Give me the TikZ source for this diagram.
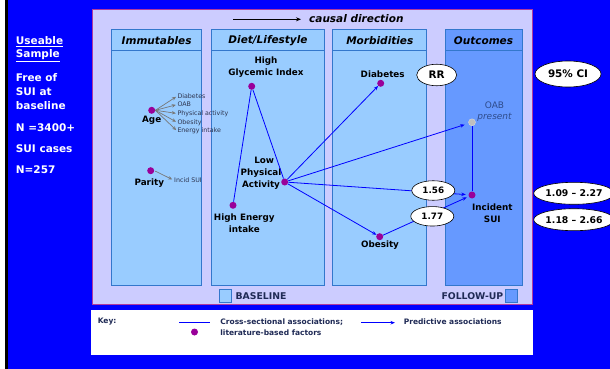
\documentclass[tikz,border=0pt]{standalone}
\usepackage{fontspec}
\setmainfont{DejaVu Sans}
\usetikzlibrary{shapes.geometric,arrows.meta}

\definecolor{bgblue}{HTML}{0000FF}
\definecolor{lav}{HTML}{CCCCFF}
\definecolor{lavedge}{HTML}{B03A9E}
\definecolor{colfill}{HTML}{99CCFF}
\definecolor{outfill}{HTML}{6699FF}
\definecolor{coledge}{HTML}{3377CC}
\definecolor{dotc}{HTML}{990099}
\definecolor{linec}{HTML}{0000FF}
\definecolor{grayarr}{HTML}{777777}
\definecolor{navy}{HTML}{1F2A55}
\definecolor{smalltxt}{HTML}{2E3550}
\definecolor{oabtxt}{HTML}{2F4C8C}

\tikzset{
  dotnode/.style={circle, fill=dotc, draw=none, inner sep=0pt, minimum size=7pt},
  lbl/.style={font=\bfseries\fontsize{8.8}{11}\selectfont, align=center, inner sep=0pt, text=black},
  small/.style={font=\fontsize{6.3}{7}\selectfont, text=smalltxt, inner sep=0pt, anchor=west},
  cs/.style={draw=linec, line width=0.8pt},
  pred/.style={cs, -{Stealth[length=4.5pt,width=3.5pt]}},
  gar/.style={draw=grayarr, line width=0.7pt, -{Stealth[length=4pt,width=3.5pt]}},
  oval/.style={ellipse, draw=black, line width=0.6pt, fill=white, inner sep=0pt,
    font=\bfseries\fontsize{8.8}{10}\selectfont},
  col/.style={draw=coledge, line width=0.8pt, fill=colfill},
  head/.style={font=\bfseries\itshape\fontsize{10.5}{12}\selectfont, inner sep=0pt},
  side/.style={font=\bfseries\fontsize{10.5}{12}\selectfont, text=white, anchor=west, inner sep=0pt},
  keytxt/.style={font=\bfseries\fontsize{7.5}{9}\selectfont, text=navy, anchor=west, inner sep=0pt},
}

\begin{document}
\begin{tikzpicture}[x=1pt,y=-1pt]
% page background
\useasboundingbox (0,0) rectangle (610,369);
\fill[white] (0,0) rectangle (5,369);
\fill[black] (5,0) rectangle (7.5,369);
\fill[bgblue] (7.5,0) rectangle (610,369);

% sample description
\node[side] (s1) at (15.7,41.7) {\underline{Useable}};
\node[side] (s2) at (15.7,55.7) {\underline{Sample}};
\node[side] (s3) at (15.7,77.7) {Free of};
\node[side] (s4) at (15.7,91.7) {SUI at};
\node[side] (s5) at (15.7,105.7) {baseline};
\node[side] (s6) at (15.7,127.7) {N =3400+};
\node[side] (s7) at (15.7,149) {SUI cases};
\node[side] (s8) at (15.7,170) {N=257};

% main panel
\draw[fill=lav, draw=lavedge, line width=0.8pt] (92.2,9.3) rectangle (532.2,304.8);

% columns
\draw[col] (111.5,29.7) rectangle (201.6,285.5);
\draw[col] (211.2,29.7) rectangle (324.8,285.5);
\draw[col] (332.8,29.7) rectangle (426.8,285.5);
\draw[col, fill=outfill] (445,29.7) rectangle (522,285.5);
\foreach \a/\b in {111.5/201.6, 211.2/324.8, 332.8/426.8, 445/522}
  \draw[draw=coledge, line width=0.8pt] (\a,50) -- (\b,50);

\node[head] (h1) at (156.6,40.5) {Immutables};
\node[head] (h2) at (268,40.5) {Diet/Lifestyle};
\node[head] (h3) at (379.8,40.5) {Morbidities};
\node[head] (h4) at (483.5,40.5) {Outcomes};

% causal direction
\coordinate (ca1) at (233,19.3);
\coordinate (ca2) at (301,19.3);
\draw[black, line width=0.8pt, -{Stealth[length=5pt,width=4pt]}] (ca1) -- (ca2);
\node[head, anchor=west] (cd) at (309,19) {causal direction};

% nodes
\node[dotnode] (age) at (151.7,110.3) {};
\node[dotnode] (par) at (150.7,170.7) {};
\node[dotnode] (gi) at (251.7,86.3) {};
\node[dotnode] (lpa) at (284.7,182) {};
\node[dotnode] (hei) at (233,205.3) {};
\node[dotnode] (diab) at (380.7,83.3) {};
\node[dotnode] (obes) at (379.7,236.7) {};
\node[circle, fill=black!25, draw=black!15, inner sep=0pt, minimum size=7pt] (oab) at (472,122.3) {};
\node[dotnode] (sui) at (472,195) {};

% labels
\node[lbl] (lage) at (151.7,120.7) {Age};
\node[lbl] (lpar) at (149.3,183) {Parity};
\node[lbl] (lgi) at (266,67) {High\\[1pt]Glycemic Index};
\node[lbl] (llpa) at (261,173) {\hphantom{P}Low\\[1pt]Physical\\[1pt]Activity};
\node[lbl] (lhei) at (244.3,222.8) {High Energy\\[1pt]intake};
\node[lbl] (ldiab) at (382.7,74.3) {Diabetes};
\node[lbl] (lobes) at (380,245.3) {Obesity};
\node[lbl] (lsui) at (492.3,213) {Incident\\[1pt]SUI};
\node[font=\fontsize{9}{10.5}\selectfont, text=oabtxt, align=center, inner sep=0pt] (loab) at (494.5,111.7) {OAB\\\itshape present};

% factors linked to age and parity
\node[small] (t1) at (177.3,96) {Diabetes};
\node[small] (t2) at (177.3,104.5) {OAB};
\node[small] (t3) at (177.3,113.5) {Physical activity};
\node[small] (t4) at (177.3,122.5) {Obesity};
\node[small] (t5) at (177.3,131.2) {Energy intake};
\node[small] (t6) at (174,180.3) {Incid SUI};
\foreach \t in {t1,t2,t3,t4,t5}
  \draw[gar, shorten >=1.5pt] (age.east) -- (\t.west);
\draw[gar, shorten >=2pt, shorten <=1pt] (par.east) -- (t6.west);

% cross-sectional associations
\draw[cs] (gi) -- (lpa);
\draw[cs] (gi) -- (hei);
\draw[cs] (oab) -- (sui);

% predictive associations
\draw[pred] (lpa) -- (diab);
\draw[pred, shorten >=4pt] (lpa) -- (oab);
\draw[pred, shorten >=2.5pt] (lpa) -- (sui);
\draw[pred] (lpa) -- (obes);
\draw[pred, shorten >=2pt] (obes) -- (sui);

% relative risks and intervals
\node[oval, minimum width=40pt, minimum height=21.5pt, font=\bfseries\fontsize{10.4}{12}\selectfont] (rr) at (436.7,75) {RR};
\node[oval, minimum width=43pt, minimum height=19.5pt] (r1) at (433.3,190.5) {1.56};
\node[oval, minimum width=43pt, minimum height=19.5pt] (r2) at (432.3,216.3) {1.77};
\node[oval, minimum width=66pt, minimum height=26pt, font=\bfseries\fontsize{10.4}{12}\selectfont] (ci) at (568,74) {95\% CI};
\node[oval, minimum width=68pt, minimum height=22pt, font=\bfseries\fontsize{9.3}{11}\selectfont] (c1) at (574,193.3) {1.09 -- 2.27};
\node[oval, minimum width=68pt, minimum height=22pt, font=\bfseries\fontsize{9.3}{11}\selectfont] (c2) at (574,219.7) {1.18 -- 2.66};

% baseline / follow-up legend
\draw[col] (219,289.6) rectangle (231,302);
\node[font=\bfseries\fontsize{9.3}{11}\selectfont, text=navy, anchor=west, inner sep=0pt] (bl) at (235.4,296) {BASELINE};
\draw[col, fill=outfill] (505,289.6) rectangle (517.5,302);
\node[font=\bfseries\fontsize{9.3}{11}\selectfont, text=navy, anchor=east, inner sep=0pt] (fu) at (503.5,296.5) {FOLLOW-UP};

% key
\fill[white] (91,309.5) rectangle (532.7,354.5);
\node[keytxt] (key) at (97.6,321.7) {Key:};
\coordinate (k1) at (179,322.7);
\coordinate (k2) at (210,322.7);
\draw[cs] (k1) -- (k2);
\node[dotnode] (kd) at (194.5,332) {};
\node[keytxt] (kt1) at (220.2,322) {Cross-sectional associations;};
\node[keytxt] (kt2) at (220.2,333) {literature-based factors};
\coordinate (k3) at (361,322.7);
\coordinate (k4) at (395,322.7);
\draw[pred] (k3) -- (k4);
\node[keytxt] (kt3) at (403.6,322) {Predictive associations};
\end{tikzpicture}
\end{document}
